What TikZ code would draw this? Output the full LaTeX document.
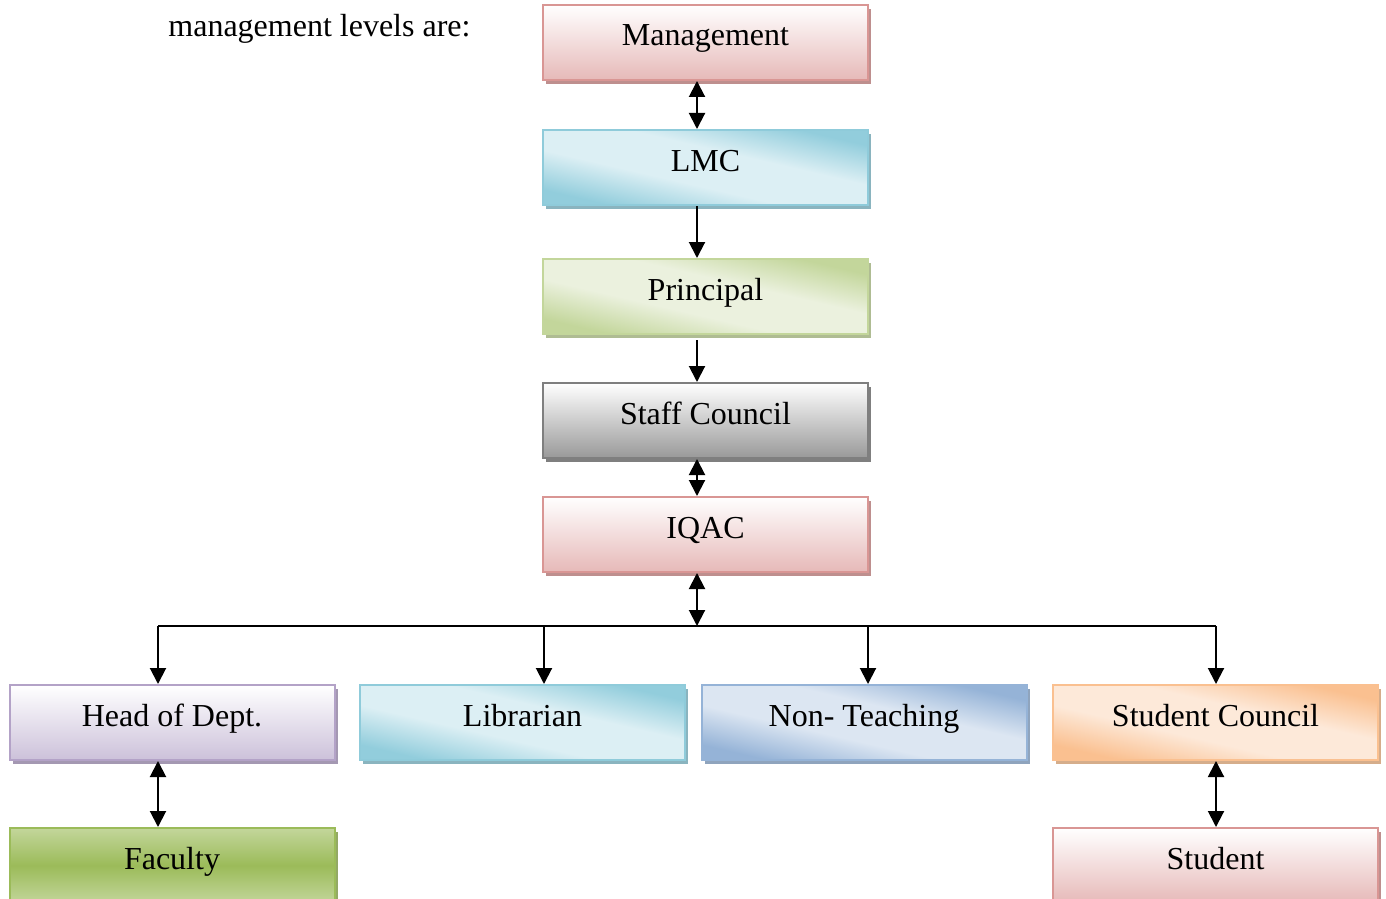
\documentclass[tikz,border=0pt]{standalone}
\usepackage{fontspec}
\setmainfont{Liberation Serif}
\usetikzlibrary{arrows.meta,shadows,calc}
\definecolor{pkB}{HTML}{D99694}\definecolor{pkD}{HTML}{E6B9B8}
\definecolor{blB}{HTML}{8FCBDA}\definecolor{blD}{HTML}{92CDDC}\definecolor{blL}{HTML}{DCEFF4}
\definecolor{grB}{HTML}{C3D69B}\definecolor{grD}{HTML}{C3D69B}\definecolor{grL}{HTML}{EBF1DE}
\definecolor{gyB}{HTML}{7F7F7F}\definecolor{gyD}{HTML}{999999}
\definecolor{vlB}{HTML}{B3A2C7}\definecolor{vlD}{HTML}{CCC1DA}
\definecolor{nbB}{HTML}{95B3D7}\definecolor{nbD}{HTML}{95B3D7}\definecolor{nbL}{HTML}{DCE6F2}
\definecolor{orB}{HTML}{FAC090}\definecolor{orD}{HTML}{FAC090}\definecolor{orL}{HTML}{FDE9D9}
\definecolor{fgB}{HTML}{9BBB59}\definecolor{fgD}{HTML}{9BBB59}\definecolor{fgL}{HTML}{C3D69B}
\pgfdeclareverticalshading{blsh}{100bp}{color(0bp)=(blD); color(26bp)=(blD); color(42bp)=(blL); color(58bp)=(blL); color(74bp)=(blD); color(100bp)=(blD)}
\pgfdeclareverticalshading{grsh}{100bp}{color(0bp)=(grD); color(26bp)=(grD); color(42bp)=(grL); color(58bp)=(grL); color(74bp)=(grD); color(100bp)=(grD)}
\pgfdeclareverticalshading{nbsh}{100bp}{color(0bp)=(nbD); color(26bp)=(nbD); color(42bp)=(nbL); color(58bp)=(nbL); color(74bp)=(nbD); color(100bp)=(nbD)}
\pgfdeclareverticalshading{orsh}{100bp}{color(0bp)=(orD); color(26bp)=(orD); color(42bp)=(orL); color(58bp)=(orL); color(74bp)=(orD); color(100bp)=(orD)}
\tikzset{
  box/.style={draw=#1B, line width=1pt, minimum width=162.5pt, inner sep=0pt,
    text height=20.5pt, text depth=17pt, font=\fontsize{16}{19}\selectfont,
    drop shadow={shadow xshift=1.5pt, shadow yshift=-2pt, fill=#1B!70!gray, opacity=1}},
  vbox/.style={box=#1, top color=white, bottom color=#1D},
  dbox/.style={box=#1, shade, shading=#1sh, shading angle=-13},
  tip/.tip={Triangle[width=8pt,length=8pt]},
  con/.style={line width=1pt, -tip},
  dcon/.style={line width=1pt, tip-tip},
}
\begin{document}
\begin{tikzpicture}[x=0.5pt,y=-0.5pt]
\useasboundingbox (0,0) rectangle (1386,899);
\clip (0,0) rectangle (1386,899);
\node[anchor=base west, font=\fontsize{16}{19}\selectfont, inner sep=0pt] (intro) at (168,37) {management levels are:};
\node[vbox=pk] (mgmt) at (705.5,42.5) {Management};
\node[dbox=bl] (lmc) at (705.5,167.5) {LMC};
\node[dbox=gr] (prin) at (705.5,296.5) {Principal};
\node[vbox=gy] (staff) at (705.5,420.5) {Staff Council};
\node[vbox=pk] (iqac) at (705.5,534.5) {IQAC};
\node[vbox=vl] (hod) at (172,722.5) {Head of Dept.};
\node[dbox=bl] (lib) at (522.5,722.5) {Librarian};
\node[dbox=nb] (nont) at (864,722.5) {Non- Teaching};
\node[dbox=or] (sc) at (1215.5,722.5) {Student Council};
\node[box=fg, top color=fgL, bottom color=fgL, middle color=fgD] (fac) at (172,865.5) {Faculty};
\node[vbox=pk] (stu) at (1215.5,865.5) {Student};
\coordinate (ax) at (697,0);
\coordinate (j) at (697,626);
\coordinate (j1) at (158,626);
\coordinate (j2) at (544,626);
\coordinate (j3) at (868,626);
\coordinate (j4) at (1216,626);
\draw[dcon] (mgmt.south -| ax) -- (lmc.north -| ax);
\draw[con] (lmc.south -| ax) -- (prin.north -| ax);
\draw[con] ($(prin.south -| ax)+(0,5)$) -- (staff.north -| ax);
\draw[dcon] (staff.south -| ax) -- (iqac.north -| ax);
\draw[dcon] (iqac.south -| ax) -- (j);
\draw[line width=1pt] (j1) -- (j4);
\draw[con] (j1) -- (hod.north -| j1);
\draw[con] (j2) -- (lib.north -| j2);
\draw[con] (j3) -- (nont.north -| j3);
\draw[con] (j4) -- (sc.north -| j4);
\draw[dcon] (hod.south -| j1) -- (fac.north -| j1);
\draw[dcon] (sc.south -| j4) -- (stu.north -| j4);
\end{tikzpicture}
\end{document}
